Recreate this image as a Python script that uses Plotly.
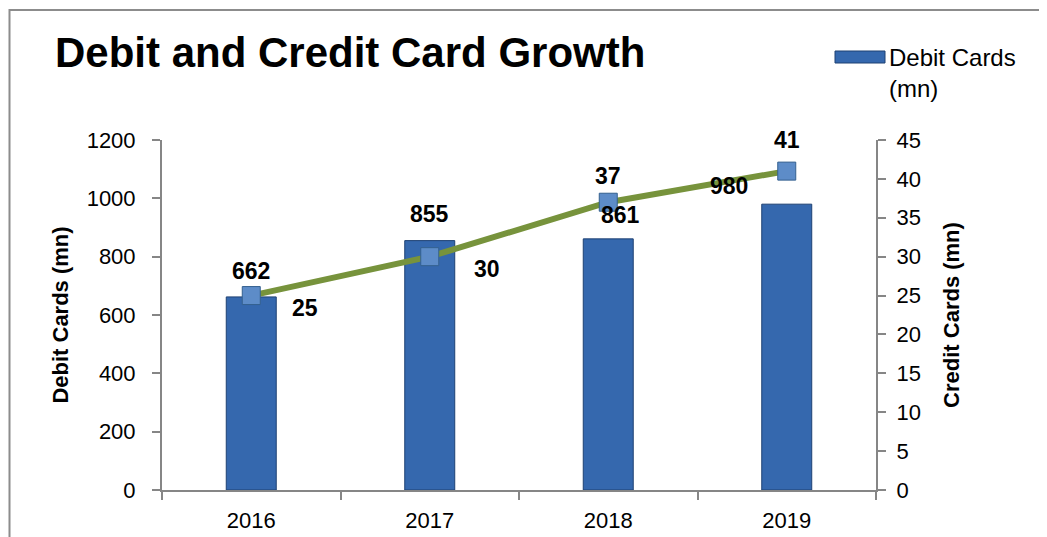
import plotly.graph_objects as go

years = ["2016", "2017", "2018", "2019"]
debit_cards = [662, 855, 861, 980]
credit_cards = [25, 30, 37, 41]
left_ticks = [0, 200, 400, 600, 800, 1000, 1200]
right_ticks = [0, 5, 10, 15, 20, 25, 30, 35, 40, 45]

FONT = "Liberation Sans"
AXC = "#868686"

# page offset of 8px (body margin) compensated in margins
L, T = 154, 132
PW, PH = 714, 350

fig = go.Figure()
fig.add_trace(go.Bar(
    x=years, y=debit_cards, width=0.28,
    marker=dict(color="#3568AE", line=dict(color="#1E4173", width=1)),
    name="Debit Cards (mn)", showlegend=False, yaxis="y",
))
fig.add_trace(go.Scatter(
    x=years, y=credit_cards, mode="lines+markers", yaxis="y2",
    line=dict(color="#77933C", width=6),
    marker=dict(symbol="square", size=18, color="#5D8CC8",
                line=dict(color="#34608F", width=1)),
    name="Credit Cards (mn)", showlegend=False,
))

# bar labels
bar_offsets = [(0, 26), (0, 27), (12, 24), (-58, 18)]
for i, (v, (dx, dy)) in enumerate(zip(debit_cards, bar_offsets)):
    fig.add_annotation(x=i, y=v, xref="x", yref="y", text=f"<b>{v}</b>",
                       showarrow=False, xshift=dx, yshift=dy,
                       font=dict(family=FONT, size=23, color="black"))
line_offsets = [(54, -12), (57, -12), (0, 26), (0, 31)]
for i, (v, (dx, dy)) in enumerate(zip(credit_cards, line_offsets)):
    fig.add_annotation(x=i, y=v, xref="x", yref="y2", text=f"<b>{v}</b>",
                       showarrow=False, xshift=dx, yshift=dy,
                       font=dict(family=FONT, size=23, color="black"))

def px(x):
    return (x - 8 - L) / PW

def py(y):
    return (T + PH - (y - 8)) / PH

# legend (manual)
fig.add_shape(type="rect", xref="paper", yref="paper",
              x0=px(835), x1=px(885), y0=py(63), y1=py(51),
              fillcolor="#3568AE", line=dict(color="#1E4173", width=1))
fig.add_annotation(xref="paper", yref="paper", x=px(887),
                   y=py(42), xanchor="left", yanchor="top",
                   align="left", showarrow=False,
                   text="Debit Cards<br>(mn)",
                   font=dict(family=FONT, size=24, color="black"))

# outer border
fig.add_shape(type="rect", xref="paper", yref="paper",
              x0=px(9.5), x1=px(1080), y0=py(580), y1=py(10),
              line=dict(color="#8C8C8C", width=2), fillcolor="rgba(0,0,0,0)")

fig.update_layout(
    width=1047, height=537,
    margin=dict(l=L, r=1047 - L - PW, t=T, b=537 - T - PH),
    paper_bgcolor="white", plot_bgcolor="white",
    title=dict(text="<b>Debit and Credit Card Growth</b>",
               x=(55 - 8) / 1047, xanchor="left",
               y=1 - (52 - 8) / 537, yanchor="middle",
               font=dict(family=FONT, size=42, color="black")),
    xaxis=dict(type="category", range=[-0.5, 3.5], showline=True,
               linecolor=AXC, linewidth=2, ticks="outside",
               tickson="boundaries", ticklen=8, tickcolor=AXC, tickwidth=2,
               showgrid=False, ticklabelstandoff=10,
               tickfont=dict(family=FONT, size=22, color="black")),
    yaxis=dict(range=[0, 1200], tickvals=left_ticks, showline=True,
               linecolor=AXC, linewidth=2, ticks="outside", ticklen=8,
               tickcolor=AXC, tickwidth=2, showgrid=False, zeroline=False,
               ticklabelstandoff=12,
               tickfont=dict(family=FONT, size=22, color="black"),
               title=dict(text="<b>Debit Cards (mn)</b>", standoff=12,
                          font=dict(family=FONT, size=22, color="black"))),
    yaxis2=dict(range=[0, 45], tickvals=right_ticks, overlaying="y",
                side="right", showline=True, linecolor=AXC, linewidth=2,
                ticks="outside", ticklen=8, tickcolor=AXC, tickwidth=2,
                showgrid=False, zeroline=False, ticklabelstandoff=6,
                tickfont=dict(family=FONT, size=22, color="black"),
                title=dict(text="<b>Credit Cards (mn)</b>", standoff=24,
                           font=dict(family=FONT, size=22, color="black"))),
)

fig.write_html("out.html")
